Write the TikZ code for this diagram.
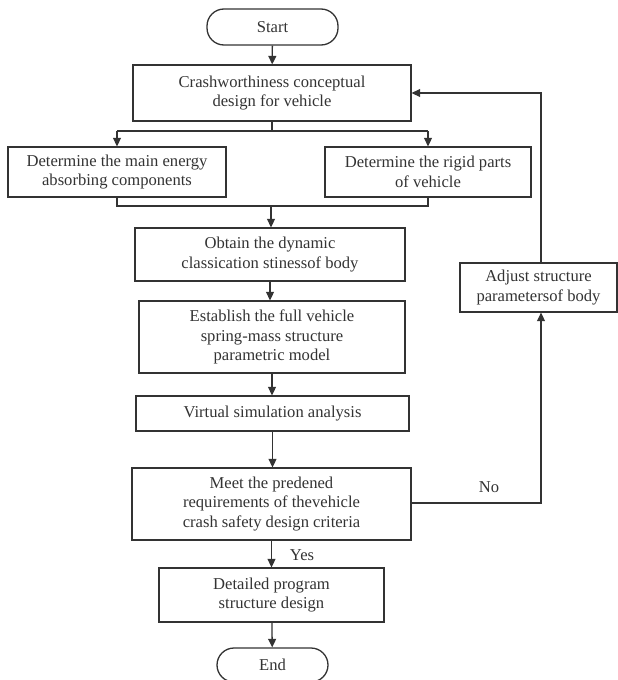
\documentclass[tikz,border=0pt]{standalone}
\usepackage{fontspec}
\setmainfont{Liberation Serif}
\usetikzlibrary{arrows.meta}
\definecolor{ink}{HTML}{333333}
\tikzset{
  box/.style={draw=ink, line width=1.3pt, rectangle, inner sep=0pt, align=center, text=ink,
    font=\fontsize{16.6}{19.5}\selectfont},
  term/.style={box, rounded corners=17pt},
  conn/.style={draw=ink, line width=1.3pt},
  arr/.style={conn, -{Triangle[length=8.5pt,width=8pt]}},
  lbl/.style={text=ink, font=\fontsize{16.6}{19.5}\selectfont, inner sep=0pt}
}
\begin{document}
\begin{tikzpicture}[x=1pt,y=-1pt]
\useasboundingbox (0,0) rectangle (618,680);
\node[term, minimum width=131pt, minimum height=36pt] (start) at (272.5,27) {Start};
\node[box, minimum width=278pt, minimum height=56pt] (crash) at (272,93) {Crashworthiness conceptual\\design for vehicle};
\node[box, minimum width=218pt, minimum height=50pt] (left) at (117,172) {Determine the main energy\\absorbing components};
\node[box, minimum width=206pt, minimum height=50pt] (right) at (428,172) {Determine the rigid parts\\of vehicle};
\node[box, minimum width=270pt, minimum height=53pt] (obtain) at (270,254.5) {Obtain the dynamic\\classication stinessof body};
\node[box, minimum width=266pt, minimum height=72pt] (estab) at (272,337) {Establish the full vehicle\\spring-mass structure\\parametric model};
\node[box, minimum width=273pt, minimum height=35pt] (virt) at (272.5,413.5) {Virtual simulation analysis};
\node[box, minimum width=279pt, minimum height=72pt] (meet) at (271.5,504) {Meet the predened\\requirements of thevehicle\\crash safety design criteria};
\node[box, minimum width=225pt, minimum height=54pt] (detail) at (271.5,595) {Detailed program\\structure design};
\node[term, minimum width=111pt, minimum height=34pt] (end) at (272.5,665) {End};
\node[box, minimum width=157pt, minimum height=49pt] (adjust) at (538.5,287.5) {Adjust structure\\parametersof body};

\coordinate (split) at (272,131);
\coordinate (splitL) at (117,131);
\coordinate (splitR) at (428,131);
\coordinate (mergeL) at (117,206);
\coordinate (mergeR) at (428,206);
\coordinate (merge) at (271,206);
\coordinate (noturn) at (541,503);
\coordinate (fbtop) at (541,93);

\draw[arr] (start) -- (crash);
\draw[conn] (crash.south) -- (split);
\draw[conn] (splitL) -- (splitR);
\draw[arr] (splitL) -- (left.north);
\draw[arr] (splitR) -- (right.north);
\draw[conn] (left.south) -- (mergeL) -- (mergeR) -- (right.south);
\draw[arr] (merge) -- (merge |- obtain.north);
\draw[arr] (obtain) -- (obtain |- estab.north);
\draw[arr] (estab) -- (estab |- virt.north);
\draw[arr] (virt) -- (virt |- meet.north);
\draw[arr] (meet.south -| detail) -- (detail.north);
\draw[arr] (detail) -- (end);
\draw[arr] (meet.east |- noturn) -- (noturn) -- (noturn |- adjust.south);
\draw[arr] (fbtop |- adjust.north) -- (fbtop) -- (crash.east |- fbtop);

\node[lbl] (no) at (489,487) {No};
\node[lbl] (yes) at (302,555) {Yes};
\end{tikzpicture}
\end{document}
